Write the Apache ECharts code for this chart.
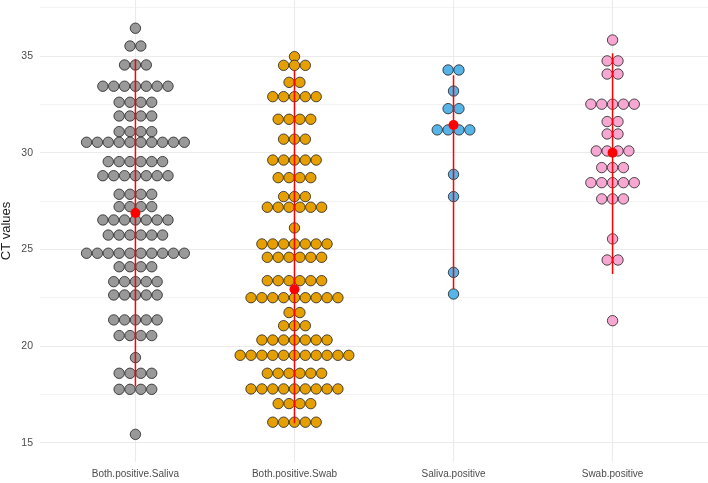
<!DOCTYPE html>
<html>
<head>
<meta charset="utf-8">
<script src="https://cdn.jsdelivr.net/npm/echarts@6/dist/echarts.min.js"></script>
<style>
html,body{margin:0;padding:0;background:#fff;}
#chart{width:708px;height:483px;}
</style>
</head>
<body>
<div id="chart"></div>
<script>
// ---- data ----
const categories = ['Both.positive.Saliva', 'Both.positive.Swab', 'Saliva.positive', 'Swab.positive'];

// dot rows (CT value of each stacked row) and the number of dots in each row
const bothSalivaRows   = [36.44, 35.52, 34.54, 33.44, 32.61, 31.90, 31.09, 30.54, 29.54, 28.81, 27.85, 27.21, 26.52, 25.74, 24.80, 24.10, 23.33, 22.64, 21.35, 20.54, 19.40, 18.59, 17.76, 15.43];
const bothSalivaCounts = [1, 2, 3, 7, 4, 4, 4, 10, 6, 7, 4, 4, 7, 6, 10, 4, 5, 5, 5, 4, 1, 4, 4, 1];

const bothSwabRows   = [34.97, 34.52, 33.64, 32.90, 31.73, 30.70, 29.62, 28.71, 27.73, 27.18, 26.11, 25.28, 24.59, 23.38, 22.50, 21.73, 21.05, 20.31, 19.52, 18.59, 17.78, 17.02, 16.06];
const bothSwabCounts = [1, 3, 2, 5, 4, 3, 5, 4, 3, 6, 1, 7, 6, 6, 9, 2, 3, 7, 11, 6, 9, 4, 5];

const salivaRows   = [34.28, 33.19, 32.28, 31.18, 28.88, 27.73, 23.81, 22.69];
const salivaCounts = [2, 1, 2, 4, 1, 1, 1, 1];

const swabRows   = [35.83, 34.75, 34.07, 32.51, 31.61, 30.97, 30.09, 29.23, 28.45, 27.61, 25.54, 24.45, 21.31];
const swabCounts = [1, 2, 2, 5, 2, 2, 4, 3, 5, 3, 1, 2, 1];

// summary (red point and red range line)
const summaryMean  = [26.88, 22.94, 31.43, 30.00];
const summaryLower = [17.90, 16.00, 22.95, 23.73];
const summaryUpper = [34.83, 34.27, 34.01, 35.14];

const yTicks = [15, 20, 25, 30, 35];
const yMinorTicks = [17.5, 22.5, 27.5, 32.5, 37.5];

// ---- styling / layout ----
const fills = ['#999999', '#E69F00', '#56B4E9', '#F7A8D2'];
const dotStep = 0.0683; // horizontal step between stacked dots, in x-axis units

const groups = [
  [bothSalivaRows, bothSalivaCounts],
  [bothSwabRows, bothSwabCounts],
  [salivaRows, salivaCounts],
  [swabRows, swabCounts]
];

function dotplotPoints(rows, counts, center) {
  const pts = [];
  rows.forEach((y, r) => {
    const n = counts[r];
    for (let i = 0; i < n; i++) {
      pts.push([center + (i - (n - 1) / 2) * dotStep, y]);
    }
  });
  return pts;
}

const series = [];

// gridlines drawn through the axis scale
series.push({
  type: 'line', data: [], silent: true, z: 0,
  markLine: {
    silent: true, symbol: 'none', animation: false, label: {show: false}, z: 0,
    lineStyle: {color: '#EBEBEB', width: 0.6, type: 'solid'},
    emphasis: {disabled: true},
    data: yMinorTicks.map(v => ({yAxis: v}))
  }
});
series.push({
  type: 'line', data: [], silent: true, z: 0,
  markLine: {
    silent: true, symbol: 'none', animation: false, label: {show: false}, z: 0,
    lineStyle: {color: '#EBEBEB', width: 1.1, type: 'solid'},
    emphasis: {disabled: true},
    data: yTicks.map(v => ({yAxis: v})).concat(categories.map((c, i) => ({xAxis: i + 1})))
  }
});

groups.forEach((g, k) => {
  series.push({
    type: 'scatter',
    name: categories[k],
    data: dotplotPoints(g[0], g[1], k + 1),
    symbol: 'circle',
    symbolSize: 10.4,
    itemStyle: {color: fills[k], borderColor: '#1f1f1f', borderWidth: 0.8, opacity: 1},
    z: 2,
    silent: true
  });
});

// red range lines
categories.forEach((c, k) => {
  series.push({
    type: 'line',
    data: [[k + 1, summaryLower[k]], [k + 1, summaryUpper[k]]],
    symbol: 'none',
    lineStyle: {color: '#FF0000', width: 1.5, opacity: 1},
    z: 3,
    silent: true
  });
});

// red mean points
series.push({
  type: 'scatter',
  data: summaryMean.map((m, k) => [k + 1, m]),
  symbol: 'circle',
  symbolSize: 10,
  itemStyle: {color: '#FF0000', opacity: 1},
  z: 4,
  silent: true
});

const chart = echarts.init(document.getElementById('chart'), null, {renderer: 'canvas'});
chart.setOption({
  animation: false,
  backgroundColor: '#ffffff',
  textStyle: {fontFamily: 'Liberation Sans, Arial, sans-serif'},
  grid: {left: 40, right: 0, top: 0, bottom: 21, containLabel: false, outerBoundsMode: 'none'},
  xAxis: {
    type: 'value',
    min: 0.4, max: 4.6,
    axisLine: {show: false},
    axisTick: {show: false},
    splitLine: {show: false},
    axisLabel: {
      customValues: [1, 2, 3, 4],
      formatter: v => categories[Math.round(v) - 1] || '',
      color: '#4D4D4D', fontSize: 10, margin: 7,
      fontFamily: 'Liberation Sans, Arial, sans-serif'
    }
  },
  yAxis: {
    type: 'value',
    min: 14.0, max: 37.9,
    name: 'CT values',
    nameLocation: 'middle',
    nameRotate: 90,
    nameGap: 27,
    nameMoveOverlap: false,
    nameTextStyle: {color: '#1a1a1a', fontSize: 13, fontFamily: 'Liberation Sans, Arial, sans-serif'},
    axisLine: {show: false},
    axisTick: {show: false},
    splitLine: {show: false},
    axisLabel: {
      customValues: yTicks,
      color: '#4D4D4D', fontSize: 10.5, margin: 7,
      fontFamily: 'Liberation Sans, Arial, sans-serif'
    }
  },
  series: series
});
</script>
</body>
</html>
